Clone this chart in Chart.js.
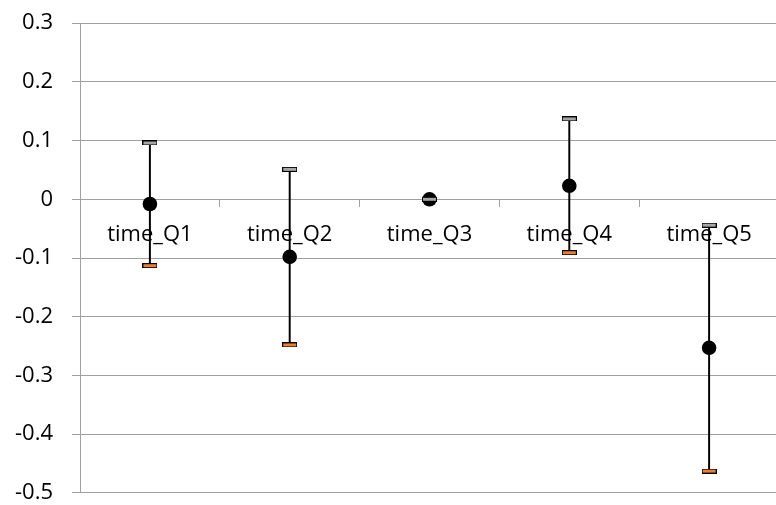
<!DOCTYPE html>
<html>
<head>
<meta charset="utf-8">
<script src="https://cdn.jsdelivr.net/npm/chart.js@4.4.0/dist/chart.umd.min.js"></script>
<style>
  html, body { margin: 0; padding: 0; background: #ffffff; overflow: hidden; }
  #wrap { position: relative; width: 787px; height: 534px; margin-top: -9px; }
</style>
</head>
<body>
<div id="wrap"><canvas id="c"></canvas></div>
<script>
const categories = ['time_Q1', 'time_Q2', 'time_Q3', 'time_Q4', 'time_Q5'];
const closeValues = [-0.008, -0.098, 0.0, 0.023, -0.253];
const highValues = [0.096, 0.051, 0.0, 0.137, -0.044];
const lowValues = [-0.113, -0.248, 0.0, -0.091, -0.463];
const yTickMin = -0.5;
const yTickMax = 0.3;
const yTickStep = 0.1;

function capImage(fill) {
  const cv = document.createElement('canvas');
  cv.width = 15; cv.height = 5;
  const g = cv.getContext('2d');
  g.fillStyle = '#000000';
  g.fillRect(0, 0, 15, 5);
  g.fillStyle = fill;
  g.fillRect(1, 1, 13, 3);
  return cv;
}
const highCap = capImage('#A5A5A5');
const lowCap = capImage('#ED7D31');

const FONT = '"Open Sans", "Noto Sans", sans-serif';
const GRID = '#a0a0a0';

new Chart(document.getElementById('c'), {
  type: 'bar',
  data: {
    labels: categories,
    datasets: [
      {
        type: 'line', label: 'High', data: highValues, showLine: false,
        pointStyle: highCap, pointRadius: 7, order: 0
      },
      {
        type: 'line', label: 'Low', data: lowValues, showLine: false,
        pointStyle: lowCap, pointRadius: 7, order: 0
      },
      {
        type: 'line', label: 'Close', data: closeValues, showLine: false,
        pointStyle: 'circle', pointRadius: 7.3, pointBorderWidth: 0,
        backgroundColor: '#000000', borderColor: '#000000', order: 1
      },
      {
        type: 'bar', label: 'Range',
        data: lowValues.map((l, i) => [l, highValues[i]]),
        backgroundColor: '#000000', borderWidth: 0, barThickness: 1.3,
        order: 2
      }
    ]
  },
  options: {
    responsive: true,
    maintainAspectRatio: false,
    animation: false,
    events: [],
    layout: { padding: { left: 0, right: 0, top: 8, bottom: 0 } },
    plugins: { legend: { display: false }, tooltip: { enabled: false } },
    scales: {
      x: {
        position: { y: 0 },
        offset: true,
        grid: { display: true, drawOnChartArea: false, drawTicks: true, tickLength: 7, color: GRID, offset: true },
        border: { display: true, color: GRID, width: 1 },
        ticks: { color: '#000000', font: { family: FONT, size: 22 }, padding: 15, maxRotation: 0 }
      },
      y: {
        min: yTickMin, max: yTickMax,
        grid: { color: GRID, lineWidth: 1, tickLength: 8, drawTicks: true },
        border: { display: true, color: GRID, width: 1 },
        afterFit: (s) => { s.width = 80; },
        ticks: {
          stepSize: yTickStep, color: '#000000', padding: 19,
          font: { family: FONT, size: 22 },
          callback: (v) => { const r = Math.round(v * 10) / 10; return String(r); }
        }
      }
    }
  }
});
</script>
</body>
</html>
